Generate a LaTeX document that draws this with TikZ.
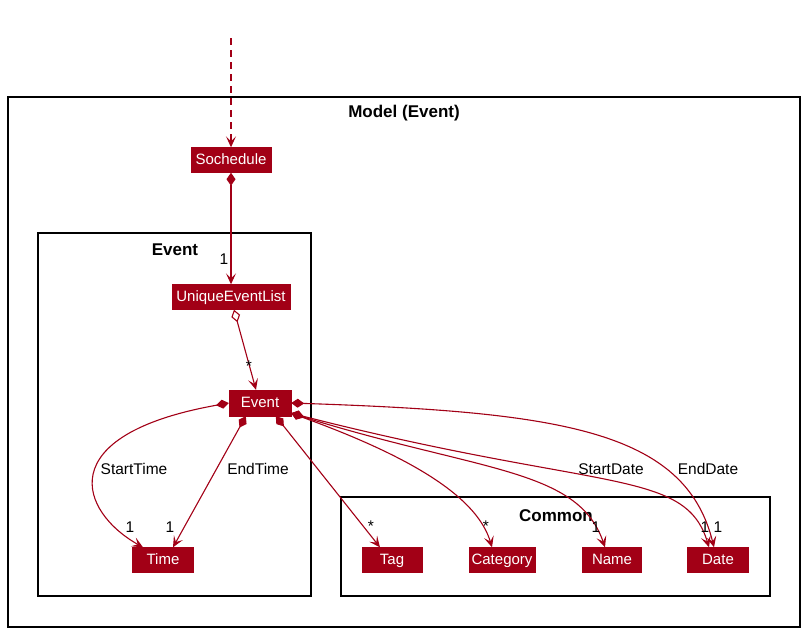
\documentclass[tikz,border=0pt]{standalone}
\usepackage{fontspec}
\setmainfont{Liberation Sans}
\usetikzlibrary{arrows.meta,calc}
\definecolor{umlred}{HTML}{A20016}
\begin{document}
\begin{tikzpicture}[x=1pt,y=-1pt,
  cls/.style={fill=umlred, draw=umlred, text=white, font=\fontsize{15}{16}\selectfont, inner xsep=2pt, inner ysep=0pt, text height=11pt, text depth=3pt, minimum height=25pt},
  frame/.style={draw=black, line width=1.4pt},
  ttl/.style={font=\bfseries\fontsize{17}{18}\selectfont},
  lbl/.style={font=\fontsize{15.5}{16}\selectfont, text=black},
  conn/.style={draw=umlred, line width=1.1pt},
  tip/.style={-{Stealth[length=11pt,width=10pt,inset=5pt]}},
  comp/.style={conn, {Diamond[fill=umlred,length=13pt,width=9pt]}-{Stealth[length=11pt,width=10pt,inset=5pt]}},
  aggr/.style={conn, {Diamond[open,fill=white,length=13pt,width=9pt]}-{Stealth[length=11pt,width=10pt,inset=5pt]}}
]
\useasboundingbox (0,0) rectangle (806,632);
% frames
\draw[frame] (8,97) rectangle (800,627);
\node[ttl] (tmodel) at (404,113) {Model (Event)};
\draw[frame] (38,233) rectangle (311,596);
\node[ttl] (tevent) at (175,250) {Event};
\draw[frame] (341,497) rectangle (770,596);
\node[ttl] (tcommon) at (556,516) {Common};
% classes
\node[cls, minimum width=80pt] (so) at (231,160) {Sochedule};
\node[cls, minimum width=118pt] (uel) at (231,297) {UniqueEventList};
\node[cls, minimum width=62pt, minimum height=26pt] (ev) at (260,403) {Event};
\node[cls, minimum width=61pt] (time) at (163,560) {Time};
\node[cls, minimum width=60pt] (tag) at (392,560) {Tag};
\node[cls, minimum width=66pt] (cat) at (502,560) {Category};
\node[cls, minimum width=59pt] (name) at (612,560) {Name};
\node[cls, minimum width=61pt] (date) at (718,560) {Date};
% dependency into Sochedule
\coordinate (top) at (231,38);
\draw[conn, dash pattern=on 7pt off 5pt, tip] (top) -- (so.north);
% compositions
\draw[comp] (so.south) -- (uel.north);
\node[lbl] at (224,259) {1};
\draw[aggr] ($(uel.south)+(3,0)$) -- ($(ev.north)+(-4,0)$);
\node[lbl] at (249,366) {*};
% Event -> Time
\draw[comp] (ev.west) .. controls (50,435) and (80,512) .. ($(time.north)+(-20,0)$);
\node[lbl] at (134,469) {StartTime};
\node[lbl] at (130,527) {1};
\draw[comp] ($(ev.south west)+(17,0)$) -- ($(time.north)+(10,0)$);
\node[lbl] at (258,469) {EndTime};
\node[lbl] at (170,527) {1};
% Event -> Common
\draw[comp] ($(ev.south west)+(47,0)$) -- ($(tag.north)+(-12,0)$);
\node[lbl] at (371,526) {*};
\draw[comp] ($(ev.south east)+(0,-3)$) .. controls (420,460) and (478,500) .. ($(cat.north)+(-10,0)$);
\node[lbl] at (486,526) {*};
\draw[comp] ($(ev.south east)+(0,-3)$) .. controls (480,472) and (578,468) .. ($(name.north)+(-7,0)$);
\node[lbl] at (596,527) {1};
\draw[comp] ($(ev.south east)+(0,-3)$) .. controls (600,492) and (685,468) .. ($(date.north)+(-9,0)$);
\node[lbl] at (611,469) {StartDate};
\node[lbl] at (705,527) {1};
\draw[comp] (ev.east) .. controls (560,412) and (685,430) .. ($(date.north)+(-4,0)$);
\node[lbl] at (708,469) {EndDate};
\node[lbl] at (718,527) {1};
\end{tikzpicture}
\end{document}
